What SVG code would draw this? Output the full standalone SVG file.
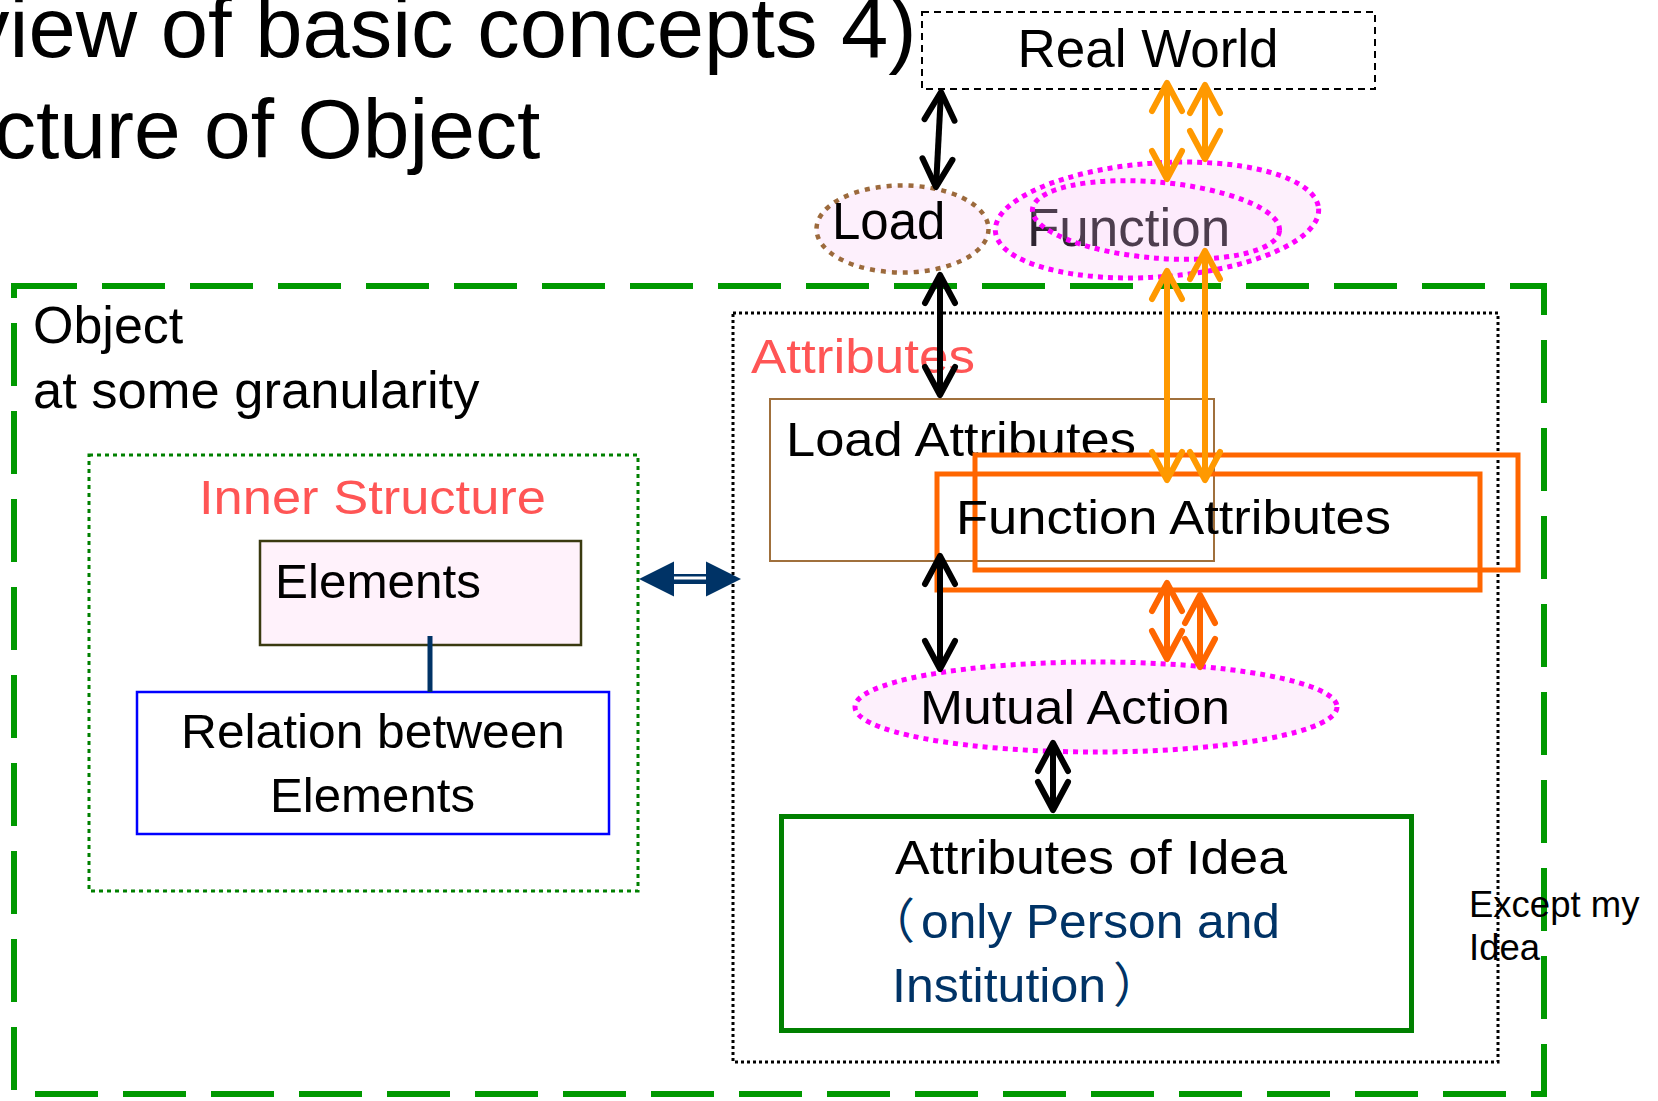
<svg xmlns="http://www.w3.org/2000/svg" width="1658" height="1101" viewBox="0 0 1658 1101">
<style>
.a { font-family: "Liberation Sans", Arial, sans-serif; fill: #000; }
.j { font-family: "Liberation Sans", "Noto Sans CJK JP", sans-serif; font-size: 48px; fill: #000; }
.red { fill: #ff5555; }
.navy { fill: #003366; }
.shaftK { stroke: #000; stroke-width: 6; fill: none; }
.shaftO { stroke: #ff9900; stroke-width: 6; fill: none; }
.shaftR { stroke: #ff6600; stroke-width: 6; fill: none; }
</style>
<defs>
<marker id="hk" markerUnits="userSpaceOnUse" viewBox="-40 -20 50 40" markerWidth="50" markerHeight="40" refX="0" refY="0" orient="auto-start-reverse" overflow="visible">
<path d="M-28,-15 L0,0 L-28,15" fill="none" stroke="#000" stroke-width="6" stroke-linecap="round" stroke-linejoin="round"/>
</marker>
<marker id="ho" markerUnits="userSpaceOnUse" viewBox="-40 -20 50 40" markerWidth="50" markerHeight="40" refX="0" refY="0" orient="auto-start-reverse" overflow="visible">
<path d="M-28,-15 L0,0 L-28,15" fill="none" stroke="#ff9900" stroke-width="6" stroke-linecap="round" stroke-linejoin="round"/>
</marker>
<marker id="hr" markerUnits="userSpaceOnUse" viewBox="-40 -20 50 40" markerWidth="50" markerHeight="40" refX="0" refY="0" orient="auto-start-reverse" overflow="visible">
<path d="M-28,-15 L0,0 L-28,15" fill="none" stroke="#ff6600" stroke-width="6" stroke-linecap="round" stroke-linejoin="round"/>
</marker>
</defs>
<rect width="1658" height="1101" fill="#fff"/>

<g id="title">
<text class="a" x="-33" y="57" font-size="85">view of basic concepts 4)</text>
<text class="a" x="-6" y="158" font-size="84">cture of Object</text>
</g>

<g id="object">
<rect x="14" y="286" width="1530" height="808" fill="none" stroke="#009900" stroke-width="6" stroke-dasharray="63 25"/>
<text class="a" x="33" y="343" font-size="52">Object</text>
<text class="a" x="33" y="408" font-size="52.5">at some granularity</text>
</g>

<g id="inner-structure">
<rect x="89" y="455" width="549" height="436" fill="none" stroke="#008000" stroke-width="3" stroke-dasharray="4 4"/>
<text class="j red" x="199" y="514" textLength="347" lengthAdjust="spacingAndGlyphs">Inner Structure</text>
</g>

<g id="elements">
<rect x="260" y="541" width="321" height="104" fill="#fff2fb" stroke="#3a3a10" stroke-width="2.5"/>
<text class="j" x="275" y="598" textLength="206" lengthAdjust="spacingAndGlyphs">Elements</text>
</g>

<g id="relation">
<rect x="137" y="692" width="472" height="142" fill="#fff" stroke="#0000ff" stroke-width="2.5"/>
<text class="j" x="181" y="748" textLength="384" lengthAdjust="spacingAndGlyphs">Relation between</text>
<text class="j" x="270" y="812" textLength="205" lengthAdjust="spacingAndGlyphs">Elements</text>
</g>

<g id="attributes">
<rect x="733" y="313" width="765" height="749" fill="none" stroke="#000" stroke-width="3" stroke-dasharray="3 3"/>
<text class="j red" x="751" y="373" textLength="224" lengthAdjust="spacingAndGlyphs">Attributes</text>
</g>

<g id="load-attributes">
<rect x="770" y="399" width="444" height="162" fill="#fff" stroke="#a0703c" stroke-width="2"/>
<text class="j" x="786" y="456" textLength="350" lengthAdjust="spacingAndGlyphs">Load Attributes</text>
</g>

<g id="function-attributes">
<rect x="937" y="474" width="543" height="116" fill="none" stroke="#ff6600" stroke-width="5"/>
<rect x="975" y="455" width="543" height="115" fill="none" stroke="#ff6600" stroke-width="5"/>
<text class="j" x="956" y="534" textLength="435" lengthAdjust="spacingAndGlyphs">Function Attributes</text>
</g>

<g id="real-world">
<rect x="922" y="12" width="453" height="77" fill="#fff" stroke="#000" stroke-width="2" stroke-dasharray="7 5"/>
<text class="a" x="1148" y="67" font-size="53" text-anchor="middle">Real World</text>
</g>

<g id="load">
<ellipse cx="902.5" cy="229" rx="86" ry="43.5" fill="#fdf0fc" stroke="#9c6a3c" stroke-width="4.5" stroke-dasharray="5 6"/>
<text class="a" x="832" y="239" font-size="51">Load</text>
</g>

<g id="function">
<ellipse cx="1157" cy="220" rx="162" ry="57" transform="rotate(-4 1157 220)" fill="#fdf0fc" stroke="#ff00ff" stroke-width="5" stroke-dasharray="5 5"/>
<text class="a" x="1027" y="246" font-size="53" style="fill:#2e2430">Function</text>
<ellipse cx="1156" cy="220" rx="124" ry="38" transform="rotate(5 1156 220)" fill="#ffd0ff" fill-opacity="0.15" stroke="#ff00ff" stroke-width="5" stroke-dasharray="5 5"/>
</g>

<g id="mutual-action">
<ellipse cx="1096" cy="707" rx="241" ry="45" fill="#fdf0fc" stroke="#ff00ff" stroke-width="5" stroke-dasharray="5 5"/>
<text class="j" x="920" y="724" textLength="310" lengthAdjust="spacingAndGlyphs">Mutual Action</text>
</g>

<g id="idea">
<rect x="781.5" y="816.5" width="630" height="214" fill="#fff" stroke="#008000" stroke-width="5"/>
<text class="j" x="895" y="874" textLength="392" lengthAdjust="spacingAndGlyphs">Attributes of Idea</text>
<text class="j navy"><tspan x="867" y="938">（</tspan><tspan x="921" y="938" textLength="359" lengthAdjust="spacingAndGlyphs">only Person and</tspan></text>
<text class="j navy"><tspan x="892" y="1002" textLength="214" lengthAdjust="spacingAndGlyphs">Institution</tspan><tspan x="1113" y="1002">）</tspan></text>
</g>

<g id="except-note">
<text class="a" x="1469" y="917" font-size="36.5">Except my</text>
<text class="a" x="1469" y="960" font-size="36.5">Idea</text>
</g>

<g id="connectors">
<line class="shaftK" x1="941" y1="92" x2="936" y2="187" marker-start="url(#hk)" marker-end="url(#hk)"/>
<line class="shaftK" x1="940" y1="275" x2="940" y2="395" marker-start="url(#hk)" marker-end="url(#hk)"/>
<line class="shaftK" x1="940" y1="556" x2="940" y2="669" marker-start="url(#hk)" marker-end="url(#hk)"/>
<line class="shaftK" x1="1053" y1="743" x2="1053" y2="810" marker-start="url(#hk)" marker-end="url(#hk)"/>
<line class="shaftO" x1="1167" y1="83" x2="1167" y2="179" marker-start="url(#ho)" marker-end="url(#ho)"/>
<line class="shaftO" x1="1205" y1="85" x2="1205" y2="159" marker-start="url(#ho)" marker-end="url(#ho)"/>
<line class="shaftO" x1="1167" y1="271" x2="1167" y2="480" marker-start="url(#ho)" marker-end="url(#ho)"/>
<line class="shaftO" x1="1205" y1="251" x2="1205" y2="480" marker-start="url(#ho)" marker-end="url(#ho)"/>
<line class="shaftR" x1="1167" y1="583" x2="1167" y2="659" marker-start="url(#hr)" marker-end="url(#hr)"/>
<line class="shaftR" x1="1200" y1="595" x2="1200" y2="667" marker-start="url(#hr)" marker-end="url(#hr)"/>
<line x1="430" y1="636" x2="430" y2="692" stroke="#003366" stroke-width="5"/>
<line x1="670" y1="579" x2="710" y2="579" stroke="#003366" stroke-width="10"/>
<line x1="673" y1="578" x2="707" y2="578" stroke="#fff" stroke-width="3"/>
<path d="M639,579 L674,561.5 L674,596.5 Z" fill="#003366"/>
<path d="M741,579 L706,561.5 L706,596.5 Z" fill="#003366"/>
</g>
</svg>
